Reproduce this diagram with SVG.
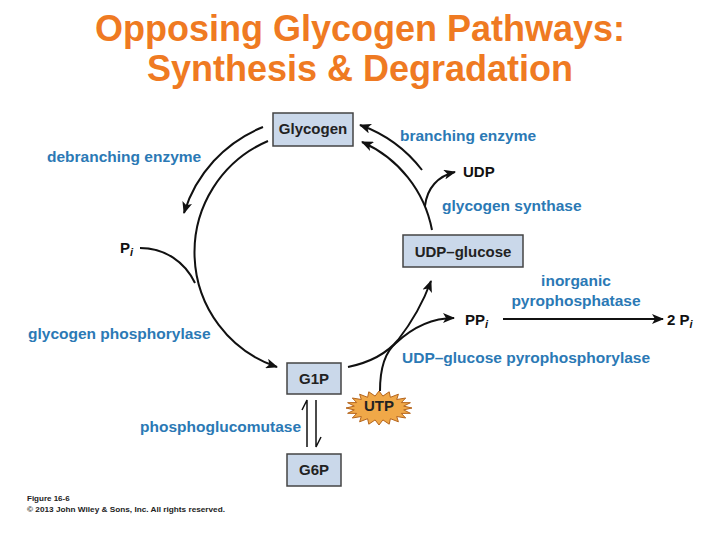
<svg xmlns="http://www.w3.org/2000/svg" width="720" height="540" viewBox="0 0 720 540">
<style>
.title{font-family:"Liberation Sans",Arial,sans-serif;font-weight:bold;font-size:36px;fill:#EF7A22;text-anchor:middle}
.box{fill:#CAD8EA;stroke:#444;stroke-width:1.5}
.bl{font-family:"Liberation Sans",Arial,sans-serif;font-weight:bold;font-size:15px;fill:#222;text-anchor:middle}
.lab{font-family:"Liberation Sans",Arial,sans-serif;font-weight:bold;font-size:15.5px;fill:#2B79B5}
.mol{font-family:"Liberation Sans",Arial,sans-serif;font-weight:bold;font-size:15px;fill:#111}
.sub{font-style:italic;font-size:11px}
.cap{font-family:"Liberation Sans",Arial,sans-serif;font-weight:bold;font-size:8px;fill:#222}
.ln{fill:none;stroke:#111;stroke-width:2}
.hp{fill:none;stroke:#111;stroke-width:1.5}
</style>
<defs>
<marker id="ah" viewBox="0 0 12 10" refX="11" refY="5" markerWidth="12" markerHeight="10" markerUnits="userSpaceOnUse" orient="auto">
<path d="M0,0 L12,5 L0,10 L3,5 z" fill="#111"/>
</marker>
</defs>

<text class="title" x="360" y="41">Opposing Glycogen Pathways:</text>
<text class="title" x="360" y="81">Synthesis &amp; Degradation</text>

<g id="connectors">
<path class="ln" d="M263,127 A135,135 0 0 0 184,213" marker-end="url(#ah)"/>
<path class="ln" d="M268,141 A121,121 0 0 0 277,367" marker-end="url(#ah)"/>
<path class="ln" d="M140,248 C165,248 185,262 195,283"/>
<path class="ln" d="M422,170 A136,136 0 0 0 360,125" marker-end="url(#ah)"/>
<path class="ln" d="M432,230 A121,121 0 0 0 362,142" marker-end="url(#ah)"/>
<path class="ln" d="M425,206 C427,188 438,176 455,172" marker-end="url(#ah)"/>
<path class="ln" d="M348,367 C372,362 388,352 398,340 C412,322 424,300 431,281" marker-end="url(#ah)"/>
<path class="ln" d="M380,391 C380,370 385,352 396,343 C412,328 432,318 454,318" marker-end="url(#ah)"/>
<path class="ln" d="M503,319 L663,319" marker-end="url(#ah)"/>
<path class="hp" d="M307,447 L307,400 L302,410"/>
<path class="hp" d="M316,400 L316,447 L321,437"/>
</g>

<g id="glycogen">
<rect class="box" x="273" y="113" width="80" height="33"/>
<text class="bl" x="313" y="134">Glycogen</text>
</g>
<g id="udp-glucose">
<rect class="box" x="403" y="235" width="120" height="32"/>
<text class="bl" x="463" y="257">UDP–glucose</text>
</g>
<g id="g1p">
<rect class="box" x="287" y="363" width="54" height="31"/>
<text class="bl" x="314" y="384">G1P</text>
</g>
<g id="g6p">
<rect class="box" x="287" y="454" width="54" height="32"/>
<text class="bl" x="314" y="475">G6P</text>
</g>
<g id="utp">
<polygon fill="#F0A848" stroke="#B5651D" stroke-width="1" points="412,408 403.7,409.9 410.4,413.3 401.3,413.4 405.7,418 396.7,416.5 398.4,421.8 390.4,418.7 389.2,424.2 382.9,419.9 379,425 375.1,419.9 368.8,424.2 367.6,418.7 359.6,421.8 361.3,416.5 352.3,418 356.7,413.4 347.6,413.3 354.3,409.9 346,408 354.3,406.1 347.6,402.7 356.7,402.6 352.3,398 361.3,399.5 359.6,394.2 367.6,397.3 368.8,391.8 375.1,396.1 379,391 382.9,396.1 389.2,391.8 390.4,397.3 398.4,394.2 396.7,399.5 405.7,398 401.3,402.6 410.4,402.7 403.7,406.1"/>
<text class="bl" x="379" y="411">UTP</text>
</g>

<g id="labels">
<text class="lab" x="47" y="162">debranching enzyme</text>
<text class="lab" x="400" y="141">branching enzyme</text>
<text class="mol" x="463" y="177">UDP</text>
<text class="lab" x="442" y="211">glycogen synthase</text>
<text class="mol" x="120" y="253">P<tspan class="sub" dy="3">i</tspan></text>
<text class="lab" x="576" y="286" text-anchor="middle">inorganic</text>
<text class="lab" x="576" y="306" text-anchor="middle">pyrophosphatase</text>
<text class="mol" x="465" y="325">PP<tspan class="sub" dy="3">i</tspan></text>
<text class="mol" x="667" y="325">2 P<tspan class="sub" dy="3">i</tspan></text>
<text class="lab" x="28" y="339">glycogen phosphorylase</text>
<text class="lab" x="402" y="363">UDP–glucose pyrophosphorylase</text>
<text class="lab" x="140" y="432">phosphoglucomutase</text>
</g>

<text class="cap" x="27" y="501">Figure 16-6</text>
<text class="cap" x="27" y="512" textLength="198" lengthAdjust="spacingAndGlyphs">© 2013 John Wiley &amp; Sons, Inc. All rights reserved.</text>
</svg>
